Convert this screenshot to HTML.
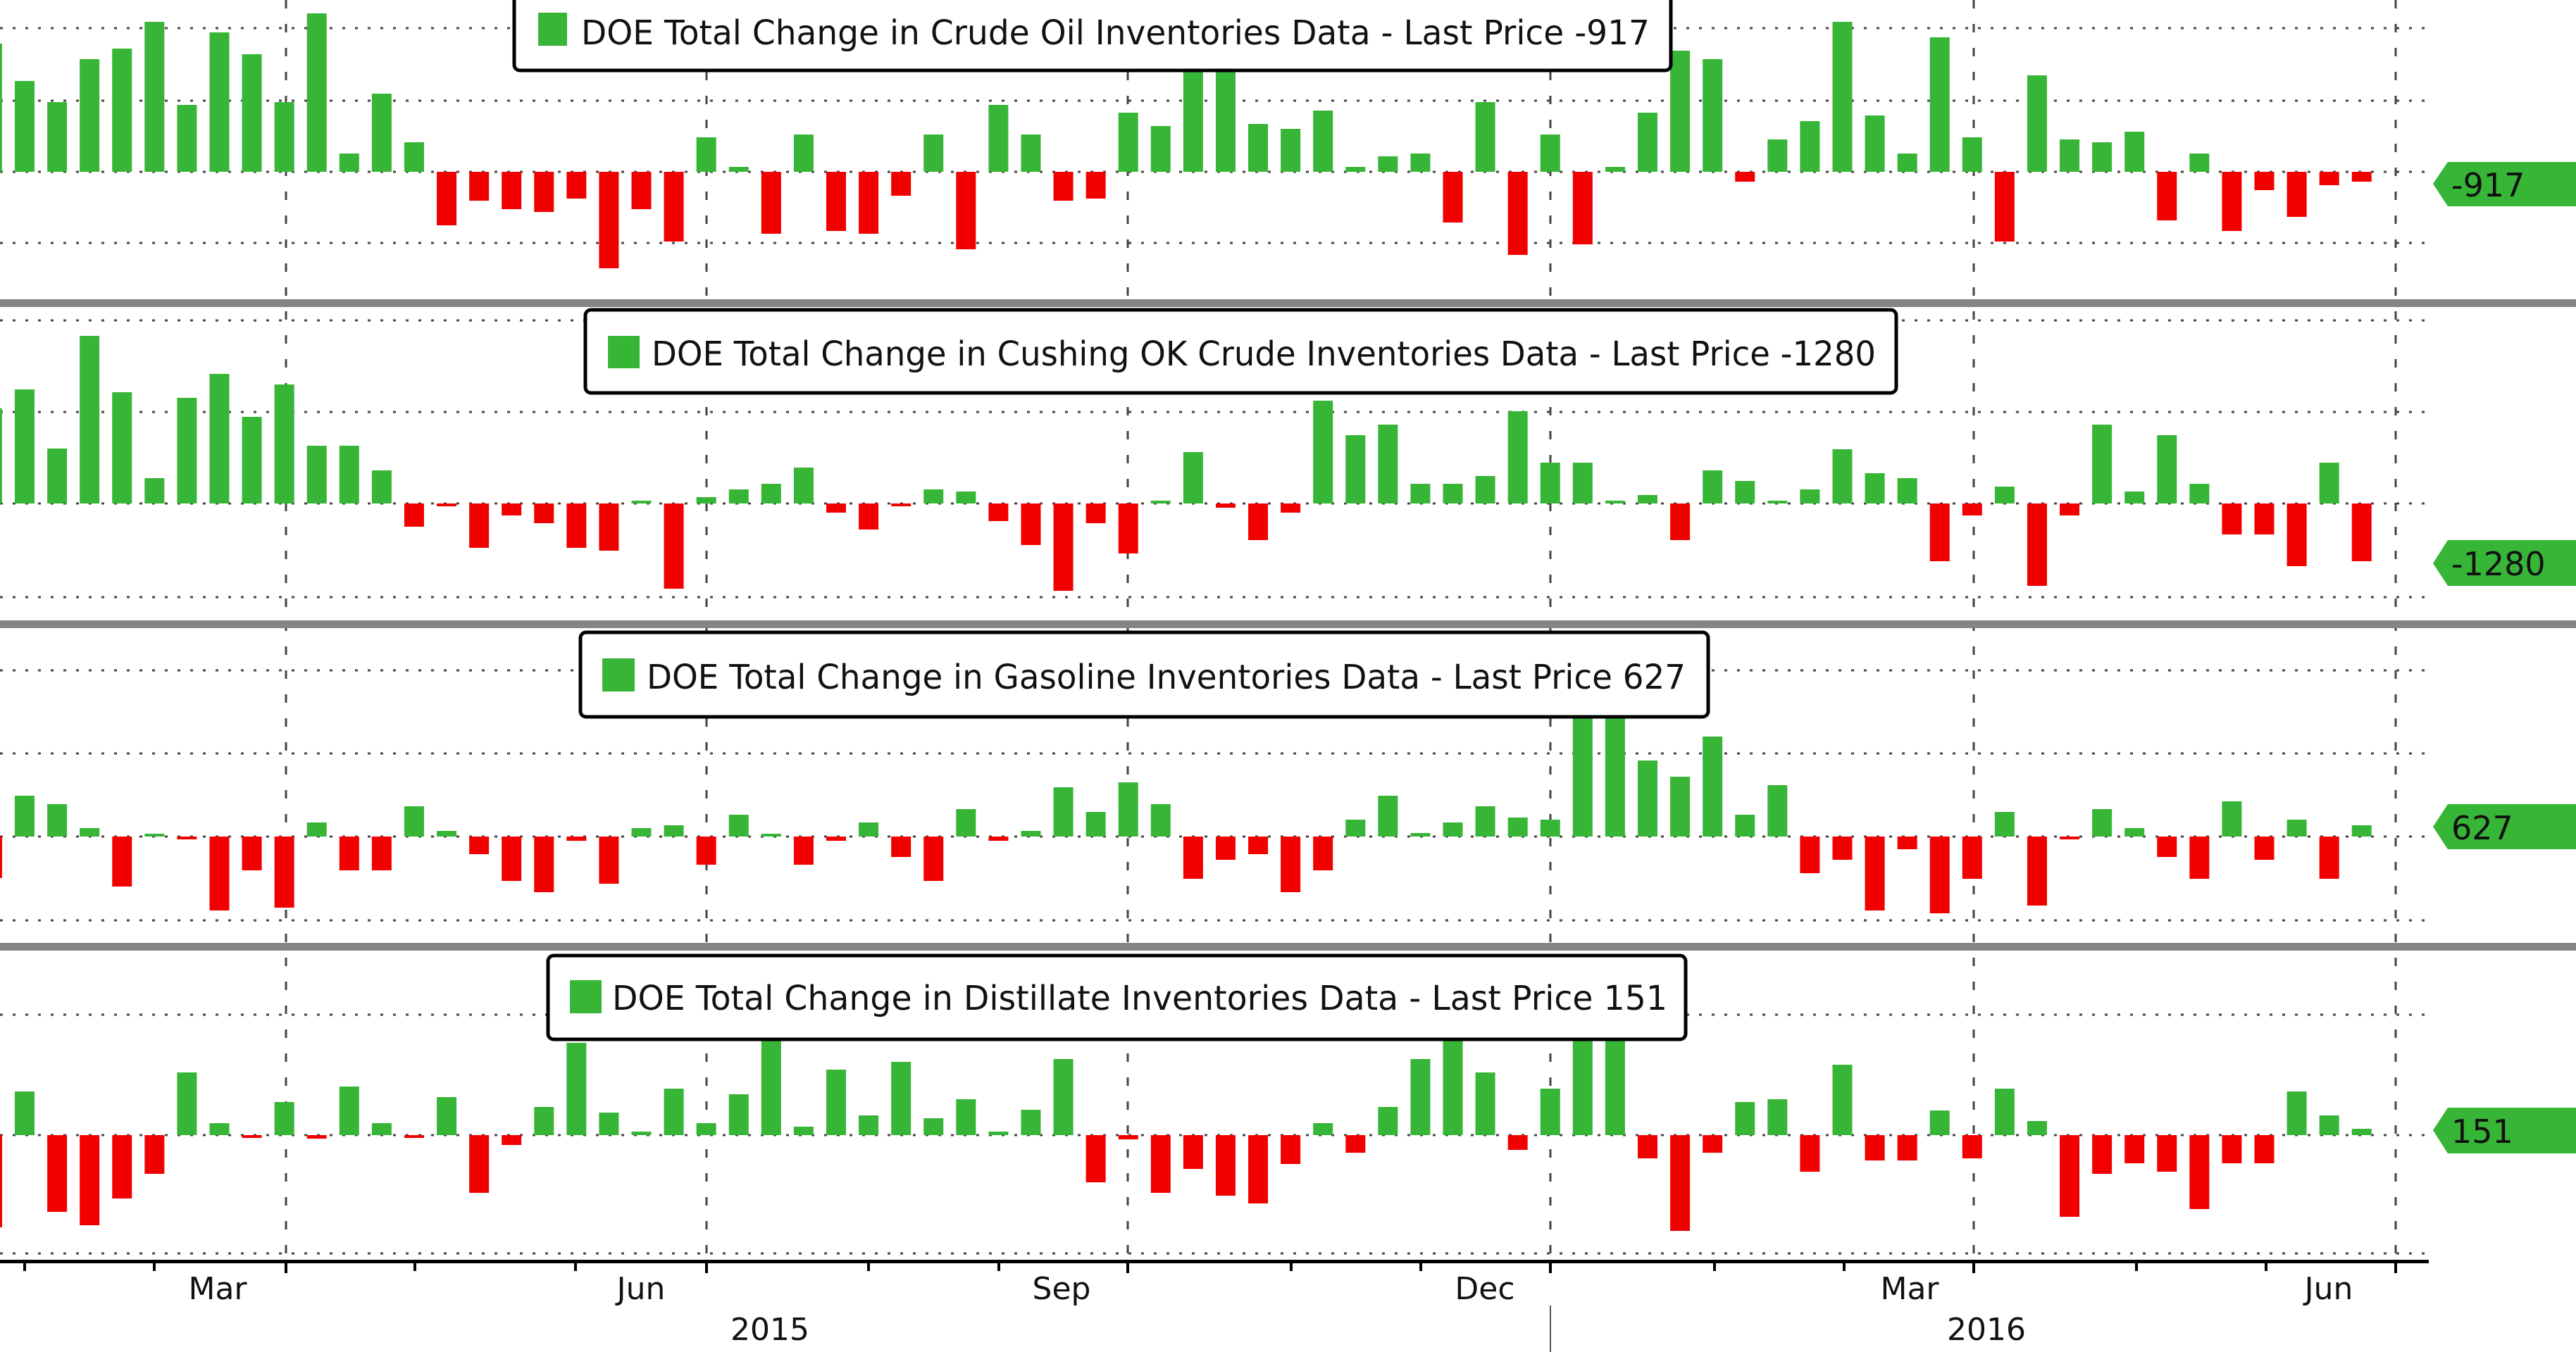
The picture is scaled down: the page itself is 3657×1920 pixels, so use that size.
<!DOCTYPE html>
<html><head><meta charset="utf-8"><style>
html,body{margin:0;padding:0;background:#fff;width:3657px;height:1920px;overflow:hidden}
svg{display:block}
text{font-family:"DejaVu Sans","Liberation Sans",sans-serif;fill:#111}
</style></head><body>
<svg id="s" width="3657" height="1920" viewBox="0 0 3657 1920" xmlns="http://www.w3.org/2000/svg">
<g id="grid" stroke="#333" stroke-width="3"></g>
<g id="bars"></g>
<!-- separators -->
<rect x="0" y="425" width="3657" height="11" fill="#858585"/>
<rect x="0" y="881" width="3657" height="11" fill="#858585"/>
<rect x="0" y="1339" width="3657" height="11" fill="#858585"/>
<!-- axis -->
<rect x="0" y="1789" width="3448" height="5" fill="#000"/>
<g stroke="#000" stroke-width="4">
<line x1="35" y1="1791" x2="35" y2="1805"/><line x1="219" y1="1791" x2="219" y2="1805"/><line x1="406" y1="1791" x2="406" y2="1808"/>
<line x1="589" y1="1791" x2="589" y2="1805"/><line x1="817" y1="1791" x2="817" y2="1805"/><line x1="1003" y1="1791" x2="1003" y2="1808"/>
<line x1="1233" y1="1791" x2="1233" y2="1805"/><line x1="1418" y1="1791" x2="1418" y2="1805"/><line x1="1601" y1="1791" x2="1601" y2="1808"/>
<line x1="1833" y1="1791" x2="1833" y2="1805"/><line x1="2017" y1="1791" x2="2017" y2="1805"/><line x1="2201" y1="1791" x2="2201" y2="1808"/>
<line x1="2434" y1="1791" x2="2434" y2="1805"/><line x1="2618" y1="1791" x2="2618" y2="1805"/><line x1="2802" y1="1791" x2="2802" y2="1808"/>
<line x1="3033" y1="1791" x2="3033" y2="1805"/><line x1="3217" y1="1791" x2="3217" y2="1805"/><line x1="3401" y1="1791" x2="3401" y2="1808"/>
</g>
<line x1="2201" y1="1854" x2="2201" y2="1920" stroke="#555" stroke-width="2"/>
<g font-size="44" text-anchor="middle">
<text x="309" y="1845">Mar</text><text x="910" y="1845">Jun</text><text x="1507" y="1845">Sep</text>
<text x="2108" y="1845">Dec</text><text x="2711" y="1845">Mar</text><text x="3306" y="1845">Jun</text>
<text x="1093" y="1903">2015</text><text x="2820" y="1903">2016</text>
</g>
<!-- legends -->
<g stroke="#000" stroke-width="5" fill="#fff">
<rect x="730" y="-20" width="1642" height="120" rx="8"/>
<rect x="831" y="440" width="1861" height="118" rx="8"/>
<rect x="824" y="898" width="1601" height="120" rx="8"/>
<rect x="778" y="1357" width="1615" height="119" rx="8"/>
</g>
<g fill="#37b537">
<rect x="764" y="18" width="41" height="47"/>
<rect x="863" y="477" width="45" height="46"/>
<rect x="855" y="935" width="46" height="47"/>
<rect x="809" y="1392" width="45" height="47"/>
</g>
<g font-size="48" dominant-baseline="central">
<text x="825" y="47" textLength="1517" lengthAdjust="spacingAndGlyphs">DOE Total Change in Crude Oil Inventories Data - Last Price -917</text>
<text x="925" y="503" textLength="1738" lengthAdjust="spacingAndGlyphs">DOE Total Change in Cushing OK Crude Inventories Data - Last Price -1280</text>
<text x="918" y="962" textLength="1475" lengthAdjust="spacingAndGlyphs">DOE Total Change in Gasoline Inventories Data - Last Price 627</text>
<text x="869" y="1418" textLength="1498" lengthAdjust="spacingAndGlyphs">DOE Total Change in Distillate Inventories Data - Last Price 151</text>
</g>
<!-- right labels -->
<g fill="#37b537">
<polygon points="3454,261 3475,230 3657,230 3657,293 3475,293"/>
<polygon points="3454,800 3475,767 3657,767 3657,832 3475,832"/>
<polygon points="3454,1174 3475,1142 3657,1142 3657,1206 3475,1206"/>
<polygon points="3454,1605 3475,1573 3657,1573 3657,1638 3475,1638"/>
</g>
<g font-size="46" dominant-baseline="central">
<text x="3480" y="263">-917</text>
<text x="3480" y="801">-1280</text>
<text x="3480" y="1176">627</text>
<text x="3480" y="1607">151</text>
</g>
</svg>
<script>
(function(){
var NS="http://www.w3.org/2000/svg";
var grid=document.getElementById('grid'),bars=document.getElementById('bars');
function el(p,t,a){var e=document.createElementNS(NS,t);for(var k in a)e.setAttribute(k,a[k]);p.appendChild(e);return e;}
var hl=[40,143,244,345,455,585,715,848,952,1070,1188,1307,1441,1612,1780];
hl.forEach(function(y){el(grid,'line',{x1:0,y1:y,x2:3446,y2:y,'stroke-dasharray':'4 14',stroke:'#444','stroke-width':3});});
[406,1003,1601,2201,2802,3401].forEach(function(x){el(grid,'line',{x1:x,y1:0,x2:x,y2:1790,'stroke-dasharray':'12 22',stroke:'#444','stroke-width':3});});
var P=[
{z:244,d:[62,115,145,84,69,31,149,46,77,145,19,218,133,202,320,285,297,301,282,381,297,343,195,237,332,191,328,332,278,191,354,149,191,285,282,160,179,100,100,176,183,157,237,222,218,316,145,362,191,347,237,160,72,84,258,198,172,31,164,218,53,195,343,107,198,202,187,313,218,328,270,308,263,258]},
{z:715,d:[580,553,637,477,557,679,565,531,592,546,633,633,668,748,719,778,732,743,778,782,711,836,706,695,687,664,728,752,719,695,698,740,774,839,743,786,711,642,721,767,728,569,618,603,687,687,676,584,657,657,711,703,767,668,683,712,695,638,672,679,797,732,691,832,732,603,698,618,687,759,759,804,657,797]},
{z:1188,d:[1247,1130,1142,1176,1259,1185,1191,1293,1236,1289,1168,1236,1236,1145,1180,1213,1251,1267,1194,1255,1176,1172,1228,1157,1185,1228,1194,1168,1217,1251,1149,1194,1180,1118,1153,1111,1142,1248,1221,1213,1267,1236,1164,1130,1183,1168,1145,1161,1164,1017,1017,1080,1103,1046,1157,1115,1240,1221,1293,1206,1297,1248,1153,1286,1191,1149,1176,1217,1248,1138,1221,1164,1248,1172]},
{z:1612,d:[1743,1550,1721,1740,1702,1667,1523,1595,1616,1565,1617,1543,1595,1615,1558,1694,1626,1572,1481,1580,1607,1546,1595,1554,1475,1600,1519,1584,1508,1588,1561,1607,1576,1504,1679,1618,1694,1660,1698,1709,1653,1595,1637,1572,1504,1475,1523,1633,1546,1475,1475,1645,1748,1637,1565,1561,1664,1512,1648,1648,1577,1645,1546,1592,1728,1667,1652,1664,1717,1652,1652,1550,1584,1603]}
];
P.forEach(function(p){
 p.d.forEach(function(v,k){
  var i=k-1,cx=35+46.08*i,x=cx-14,w=28;
  if(x<0){w+=x;x=0;} if(w<=0)return;
  var g=v<p.z,y0=Math.min(v,p.z),h=Math.abs(v-p.z);
  if(h<4){h=4;y0=g?p.z-4:p.z;}
  el(bars,'rect',{x:x,y:y0,width:w,height:h,fill:g?'#37b537':'#f20000'});
 });
});
})();
</script>
</body></html>
